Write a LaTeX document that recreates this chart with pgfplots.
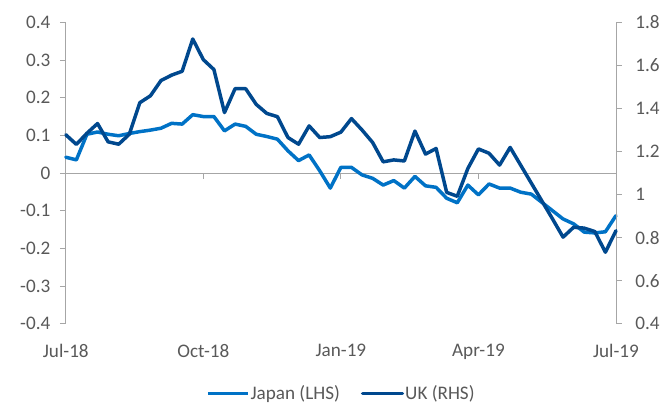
\documentclass[border=0pt]{standalone}
\usepackage{fontspec}
\setmainfont{Carlito}
\usepackage{pgfplots}
\usepackage{pgfplotstable}
\pgfplotsset{compat=1.18}
\usetikzlibrary{calc}
\definecolor{japan}{RGB}{0,114,198}
\definecolor{uk}{RGB}{0,72,142}
\definecolor{axgray}{RGB}{166,166,166}
\definecolor{txtgray}{RGB}{89,89,89}

\pgfplotstableread{
i jp uk
0 0.042 1.278
1 0.035 1.233
2 0.103 1.285
3 0.109 1.330
4 0.103 1.245
5 0.099 1.234
6 0.105 1.280
7 0.110 1.427
8 0.114 1.459
9 0.119 1.530
10 0.132 1.555
11 0.130 1.573
12 0.155 1.723
13 0.150 1.627
14 0.150 1.581
15 0.112 1.381
16 0.130 1.492
17 0.124 1.492
18 0.103 1.419
19 0.097 1.377
20 0.090 1.362
21 0.059 1.265
22 0.033 1.234
23 0.048 1.319
24 0.006 1.265
25 -0.040 1.269
26 0.015 1.290
27 0.015 1.353
28 -0.005 1.300
29 -0.014 1.242
30 -0.032 1.152
31 -0.020 1.161
32 -0.040 1.156
33 -0.009 1.295
34 -0.034 1.188
35 -0.038 1.214
36 -0.067 1.010
37 -0.079 0.992
38 -0.032 1.121
39 -0.058 1.212
40 -0.029 1.192
41 -0.040 1.137
42 -0.040 1.219
43 -0.051 1.136
44 -0.056 1.053
45 -0.078 0.970
46 -0.100 0.887
47 -0.122 0.802
48 -0.135 0.848
49 -0.157 0.844
50 -0.159 0.828
51 -0.156 0.732
52 -0.113 0.832
}\datatable

\begin{document}
\begin{tikzpicture}
\pgfplotsset{
  base/.style={
    scale only axis, width=552bp, height=302.2bp,
    xmin=0, xmax=52,
    font=\fontsize{19.3}{23}\selectfont,
    /pgf/number format/assume math mode=true,
    tick label style={text=txtgray},
    axis line style={-, draw=axgray, line width=0.8bp},
    tick style={draw=axgray, line width=0.8bp},
    tick align=outside,
    major tick length=6bp,
    clip=false,
  }
}
\begin{axis}[base,
  ymin=-0.4, ymax=0.4,
  ytick={-0.4,-0.3,-0.2,-0.1,0,0.1,0.2,0.3,0.4},
  axis y line*=left,
  axis x line*=bottom,
  x axis line style={draw=none},
  xtick={0,13,26,39,52},
  xticklabels={Jul-18,Oct-18,Jan-19,Apr-19,Jul-19},
  x tick style={draw=none},
  xticklabel style={yshift=-11bp},
  yticklabel style={xshift=-6bp},
]
\draw[axgray, line width=0.8bp] (axis cs:0,0) -- (axis cs:52,0);
\pgfplotsinvokeforeach{13,26,39,52}{\draw[axgray, line width=0.8bp] (axis cs:#1,0) -- ([yshift=-6bp]axis cs:#1,0);}
\addplot[japan, line width=3.5bp, line join=round, line cap=round] table[x=i, y=jp] {\datatable};
\end{axis}
\begin{axis}[base,
  ymin=0.4, ymax=1.8,
  ytick={0.4,0.6,0.8,1,1.2,1.4,1.6,1.8},
  axis y line*=right,
  axis x line=none,
  yticklabel style={xshift=10bp},
  legend style={at={(0.5,-0.2326)}, anchor=center, draw=none, fill=none,
    legend columns=2, font=\fontsize{19.3}{23}\selectfont, text=txtgray,
    /tikz/every even column/.append style={column sep=20bp},
    nodes={inner xsep=1bp}},
  legend image code/.code={\draw[#1] (0bp,0bp) -- (40bp,0bp);},
]
\addlegendimage{japan, line width=3.5bp}
\addlegendentry{Japan (LHS)}
\addplot[uk, line width=3.5bp, line join=round, line cap=round] table[x=i, y=uk] {\datatable};
\addlegendentry{UK (RHS)}
\end{axis}
\path ($(current axis.south west)+(-66bp,-80.3bp)$) rectangle ($(current axis.north east)+(45bp,22.5bp)$);
\end{tikzpicture}
\end{document}
